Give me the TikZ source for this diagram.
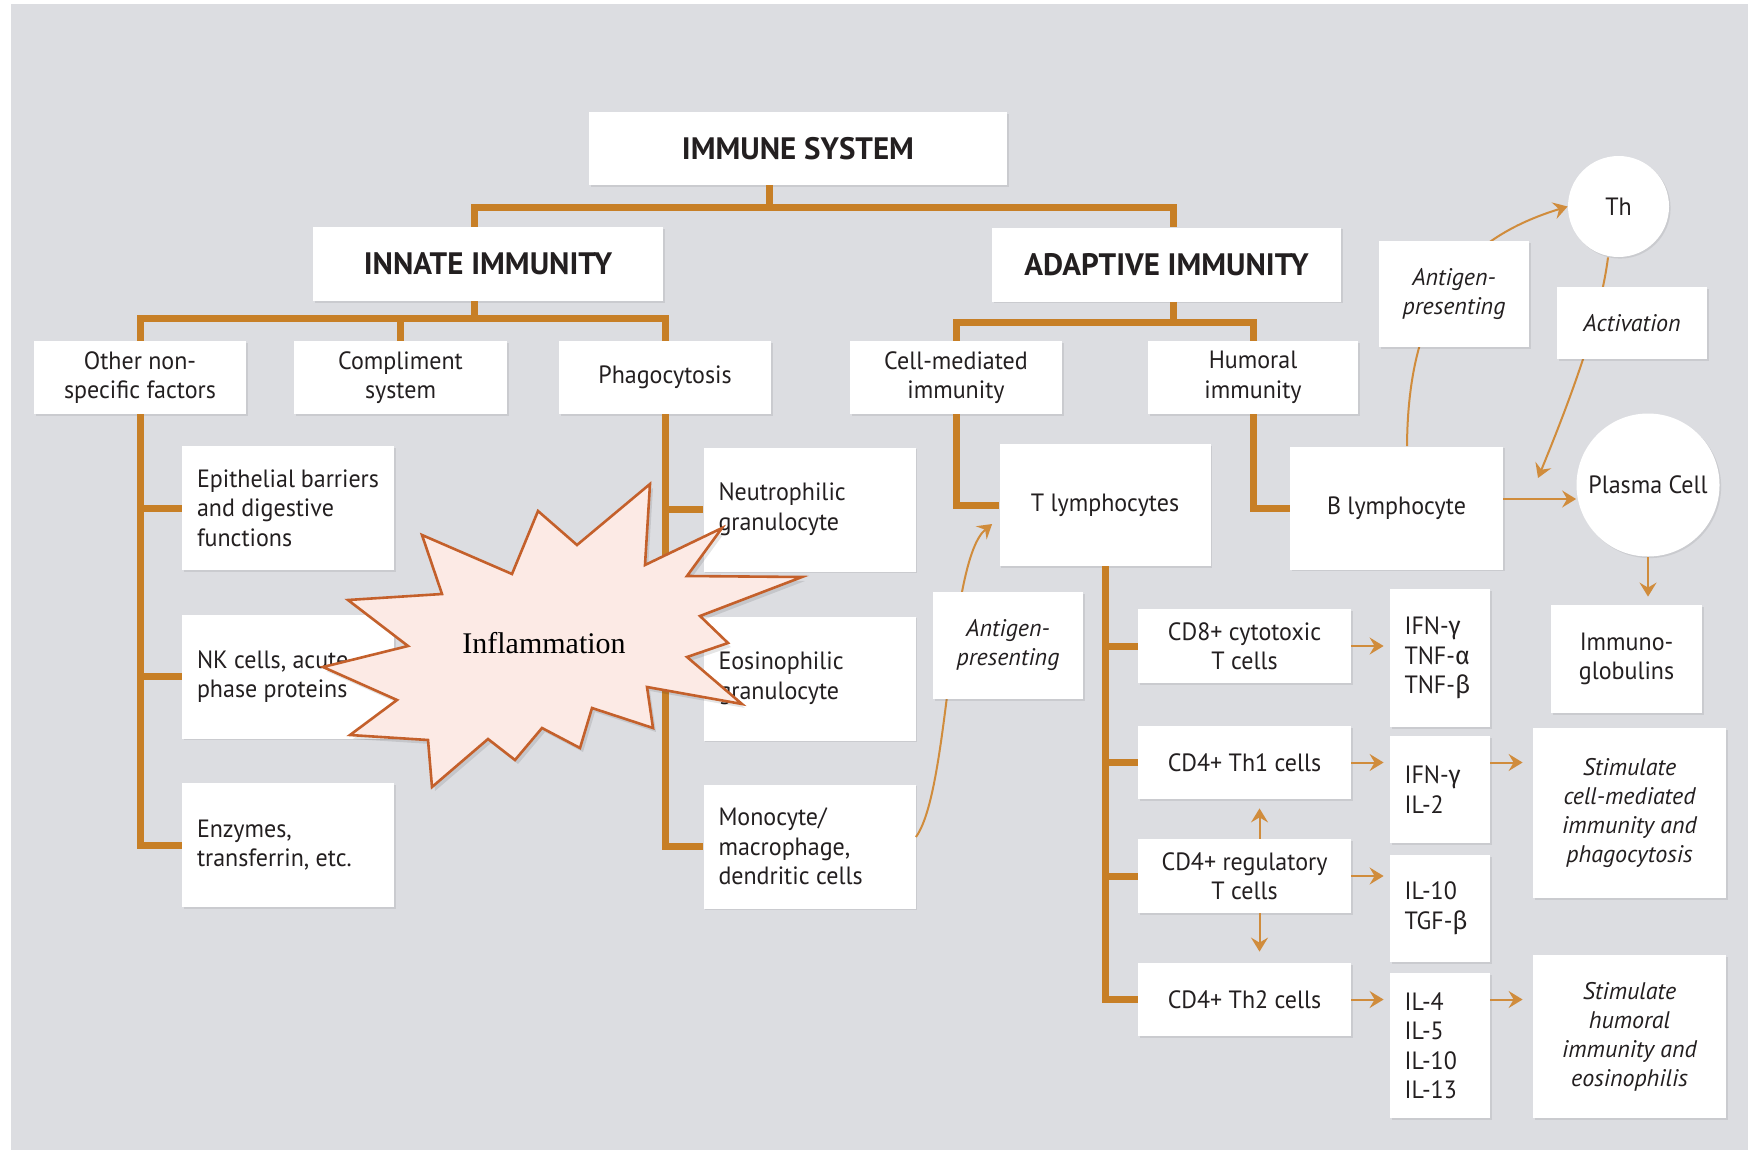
\documentclass[tikz,border=0pt]{standalone}
\usepackage{fontspec}
\setmainfont{PT Sans}[FakeStretch=0.96]
\newfontfamily\headfont{PT Sans}
\newfontfamily\itfont{PT Sans}
\newfontfamily\greekfont{Fira Sans}
\newfontfamily\starfont{Liberation Serif}
\usetikzlibrary{arrows.meta,shadows,calc}
\definecolor{bggray}{RGB}{220,221,225}
\definecolor{conn}{RGB}{199,127,38}
\definecolor{thinarr}{RGB}{208,140,60}
\definecolor{txt}{RGB}{35,31,32}
\definecolor{starfill}{RGB}{252,234,229}
\definecolor{stardraw}{RGB}{196,96,43}
\newcommand{\fontReg}{\fontsize{12.5pt}{14.75pt}\selectfont}
\newcommand{\fontHead}{\headfont\fontsize{15.5pt}{18pt}\selectfont\bfseries}
\newcommand{\fontIt}{\itfont\fontsize{12pt}{14.5pt}\selectfont\itshape}
\newcommand{\gk}[1]{{\greekfont #1}}
\newcommand{\starpath}{(650,484) -- (645,565) -- (722,528) -- (687,576) -- (802,577) -- (700,616) -- (728,643) -- (687,657) -- (742,704) -- (647,687) -- (653,728) -- (592,708) -- (580,748) -- (542,728) -- (515,760) -- (488,739) -- (432,787) -- (428,740) -- (350,735) -- (397,700) -- (323,667) -- (408,646) -- (348,600) -- (442,594) -- (422,535) -- (512,574) -- (538,511) -- (577,545) -- cycle}
\tikzset{
  box/.style={fill=white, inner sep=0pt, text=txt, font=\fontReg, align=center,
     drop shadow={shadow xshift=0.8pt, shadow yshift=-0.8pt, opacity=0.08, fill=black}},
  headbox/.style={box, font=\fontHead},
  leftbox/.style={box, align=flush left, inner xsep=7.5pt, text width=91pt, minimum height=62pt},
  cytbox/.style={box, align=flush left, inner xsep=7.25pt, text width=35.5pt},
  itbox/.style={box, font=\fontIt},
  trunk/.style={draw=conn, line width=3.5pt, line join=miter},
  arr/.style={draw=thinarr, line width=1pt, -{Stealth[length=7pt,width=8.5pt,inset=2.5pt]}}
}
\begin{document}
\begin{tikzpicture}[x=0.5pt,y=-0.5pt]
\useasboundingbox (0,0) rectangle (1748,1150);
\fill[white] (0,0) rectangle (1748,1150);
\fill[bggray] (11,4) rectangle (1748,1150);

% level 1-2
\node[headbox, minimum width=209pt, minimum height=36.5pt] (immune) at (798,148.5) {IMMUNE SYSTEM};
\node[headbox, minimum width=175pt, minimum height=37pt] (innate) at (488,264) {INNATE IMMUNITY};
\node[headbox, minimum width=174.5pt, minimum height=37pt] (adaptive) at (1166.5,264.5) {ADAPTIVE IMMUNITY};

% level 3
\node[box, minimum width=106pt, minimum height=36.5pt] (other) at (140,377.5) {Other non-\\specific factors};
\node[box, minimum width=106.5pt, minimum height=36.5pt] (compl) at (400.5,377.5) {Compliment\\system};
\node[box, minimum width=106pt, minimum height=36.5pt] (phago) at (665,377.5) {Phagocytosis};
\node[box, minimum width=106pt, minimum height=36.5pt] (cellmed) at (956,377.5) {Cell-mediated\\immunity};
\node[box, minimum width=105pt, minimum height=36.5pt] (humoral) at (1253,377.5) {Humoral\\immunity};

% innate leaves
\node[leftbox] (epi) at (288,508) {Epithelial barriers\\and digestive\\functions};
\node[leftbox] (nk) at (288,676.5) {NK cells, acute\\phase proteins};
\node[leftbox] (enz) at (288,845) {Enzymes,\\transferrin, etc.};
\node[leftbox] (neut) at (809.5,509.5) {Neutrophilic\\granulocyte};
\node[leftbox] (eos) at (809.5,678.5) {Eosinophilic\\granulocyte};
\node[leftbox] (mono) at (809.5,846.5) {Monocyte/\\macrophage,\\dendritic cells};

% adaptive
\node[box, minimum width=105.5pt, minimum height=61pt] (tl) at (1105,505) {T lymphocytes};
\node[box, minimum width=106.5pt, minimum height=61.5pt] (bl) at (1396.5,508) {B lymphocyte};
\node[box, circle, minimum size=50.5pt] (th) at (1618.5,206.5) {Th};
\node[box, circle, minimum size=71.5pt] (plasma) at (1648,485) {Plasma Cell};
\node[box, minimum width=75.5pt, minimum height=54pt] (immuno) at (1626.5,659) {Immuno-\\globulins};

\node[box, minimum width=106.5pt, minimum height=37pt] (cd8) at (1244.5,646) {CD8+ cytotoxic\\T cells};
\node[box, minimum width=106.5pt, minimum height=36.5pt] (th1) at (1244.5,762.5) {CD4+ Th1 cells};
\node[box, minimum width=106.5pt, minimum height=37pt] (treg) at (1244.5,876) {CD4+ regulatory\\T cells};
\node[box, minimum width=106.5pt, minimum height=36.5pt] (th2) at (1244.5,999.5) {CD4+ Th2 cells};

\node[cytbox, minimum height=69pt] (cyt1) at (1440,658) {IFN-\gk{γ}\\TNF-\gk{α}\\TNF-\gk{β}};
\node[cytbox, minimum height=53.5pt] (cyt2) at (1440,789.5) {IFN-\gk{γ}\\IL-2};
\node[cytbox, minimum height=53.5pt] (cyt3) at (1440,908.5) {IL-10\\TGF-\gk{β}};
\node[cytbox, minimum height=72.5pt] (cyt4) at (1440,1045.5) {IL-4\\IL-5\\IL-10\\IL-13};

\node[itbox, minimum width=96.5pt, minimum height=85pt] (stim1) at (1629.5,813) {Stimulate\\cell-mediated\\immunity and\\phagocytosis};
\node[itbox, minimum width=96.5pt, minimum height=81.5pt] (stim2) at (1629.5,1036.5) {Stimulate\\humoral\\immunity and\\eosinophilis};

% tree connectors
\coordinate (jTop) at (769,208);
\coordinate (jInn) at (474,318);
\coordinate (jAd) at (1173,322);
\draw[trunk] (immune.south -| jTop) -- (jTop);
\draw[trunk] (innate.north -| jInn) -- (jInn |- jTop) -- (jAd |- jTop) -- (adaptive.north -| jAd);
\draw[trunk] (innate.south -| jInn) -- (jInn);
\draw[trunk] (other.north) -- (other.north |- jInn) -- (phago.north |- jInn) -- (phago.north);
\draw[trunk] (compl.north) -- (compl.north |- jInn);
\draw[trunk] (adaptive.south -| jAd) -- (jAd);
\draw[trunk] (cellmed.north) -- (cellmed.north |- jAd) -- (humoral.north |- jAd) -- (humoral.north);

\draw[trunk] (other.south) -- (other.south |- enz.west) -- (enz.west);
\draw[trunk] (other.south |- epi.west) -- (epi.west);
\draw[trunk] (other.south |- nk.west) -- (nk.west);
\draw[trunk] (phago.south) -- (phago.south |- mono.west) -- (mono.west);
\draw[trunk] (phago.south |- neut.west) -- (neut.west);
\draw[trunk] (phago.south |- eos.west) -- (eos.west);
\draw[trunk] (cellmed.south) |- (tl.west);
\draw[trunk] (humoral.south) |- (bl.west);
\draw[trunk] (tl.south) -- (tl.south |- th2.west) -- (th2.west);
\draw[trunk] (tl.south |- cd8.west) -- (cd8.west);
\draw[trunk] (tl.south |- th1.west) -- (th1.west);
\draw[trunk] (tl.south |- treg.west) -- (treg.west);

% thin arrows
\draw[arr, shorten >=3pt] (cd8.east) -- (cd8.east -| cyt1.west);
\draw[arr, shorten >=3pt] (th1.east) -- (th1.east -| cyt2.west);
\draw[arr, shorten >=3pt] (treg.east) -- (treg.east -| cyt3.west);
\draw[arr, shorten >=3pt] (th2.east) -- (th2.east -| cyt4.west);
\draw[arr, shorten >=5pt] (th1.east -| cyt2.east) -- (th1.east -| stim1.west);
\draw[arr, shorten >=5pt] (th2.east -| cyt4.east) -- (th2.east -| stim2.west);
\draw[arr, shorten >=4.5pt] ([xshift=7.5pt]treg.north) -- ([xshift=7.5pt]th1.south);
\draw[arr, shorten >=5.5pt] ([xshift=7.5pt]treg.south) -- ([xshift=7.5pt]th2.north);
\draw[arr] ([yshift=4.5pt]bl.east) -- ([yshift=4.5pt]bl.east -| plasma.west);
\draw[arr, shorten >=4pt] (plasma.south) -- (plasma.south |- immuno.north);

% curved arrows
\coordinate (actEnd) at (1538,478);
\draw[arr] ([yshift=4.75pt]mono.east) .. controls (950,790) and (948,560) .. ([xshift=-3.5pt,yshift=-9.5pt]tl.west);
\draw[arr] ([xshift=5.25pt]bl.north) .. controls (1408,300) and (1465,238) .. (th.west);
\draw[arr] ([xshift=-5.25pt]th.south) .. controls (1600,320) and (1570,400) .. (actEnd);

% labels on curves
\node[itbox, minimum width=75pt, minimum height=53.5pt] (ap1) at (1008,645.5) {Antigen-\\presenting};
\node[itbox, minimum width=75pt, minimum height=53pt] (ap2) at (1454,294) {Antigen-\\presenting};
\node[itbox, minimum width=75pt, minimum height=36pt] (act) at (1632,323) {Activation};

% inflammation star
\fill[black, opacity=0.10, shift={(3,4)}] \starpath;
\draw[fill=starfill, draw=stardraw, line width=1.3pt, line join=miter] \starpath;
\node[font=\starfont\fontsize{15pt}{18pt}\selectfont, text=black] (inflam) at (544,643) {Inflammation};
\end{tikzpicture}
\end{document}
